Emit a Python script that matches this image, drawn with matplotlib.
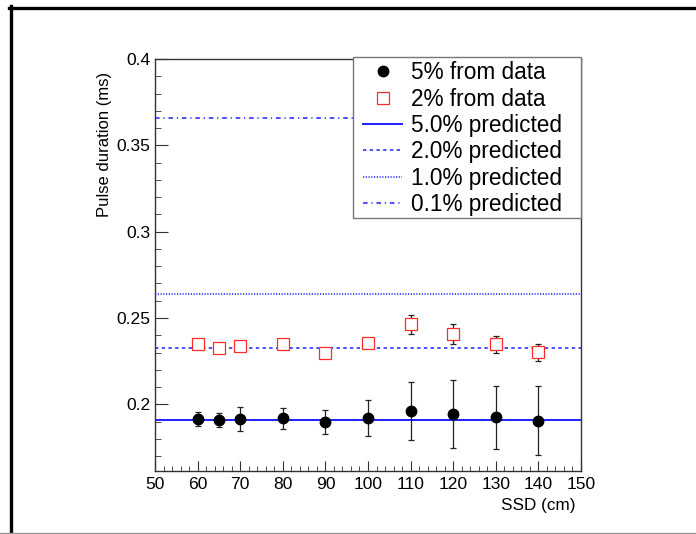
import matplotlib
matplotlib.use("Agg")
import matplotlib.pyplot as plt
from matplotlib.lines import Line2D
from matplotlib.patches import Rectangle
from matplotlib.ticker import MultipleLocator
import numpy as np

plt.rcParams['font.family'] = ['Liberation Sans', 'DejaVu Sans']

# measured points (SSD in cm, pulse duration in ms)
ssd = [60, 65, 70, 80, 90, 100, 110, 120, 130, 140]
dur_5pct = [0.1915, 0.1909, 0.1915, 0.1919, 0.1896, 0.1923, 0.1961, 0.1944, 0.1925, 0.1905]
err_5pct = [0.0040, 0.0039, 0.0070, 0.0062, 0.0070, 0.0105, 0.0169, 0.0196, 0.0184, 0.0200]
dur_2pct = [0.2348, 0.2328, 0.2336, 0.2348, 0.2296, 0.2353, 0.2463, 0.2406, 0.2348, 0.2301]
err_2pct = [0.0015, 0.0015, 0.0015, 0.0015, 0.0015, 0.0015, 0.0054, 0.0058, 0.0049, 0.0049]

# predicted constant durations
pred_labels = ["5.0% predicted", "2.0% predicted", "1.0% predicted", "0.1% predicted"]
pred_values = [0.1909, 0.2325, 0.2639, 0.3661]
pred_styles = ['-', (0, (2.2, 2.2)), (0, (0.8, 1.0)), (0, (3, 2.5, 0.8, 2.5))]

x_range = [50, 150]
y_range = [0.1614, 0.4003]

fig = plt.figure(figsize=(6.96, 5.34), dpi=100)
ax = fig.add_axes([155/696, 1-471/534, 426/696, 412.5/534])

blue = '#1f1fff'
red = '#ff2a2a'
handles = []
for val, lab, ls in zip(pred_values, pred_labels, pred_styles):
    h, = ax.plot(x_range, [val, val], color=blue, linestyle=ls, linewidth=1.4 if ls == '-' else 1.1, label=lab, zorder=2)
    handles.append(h)

ax.errorbar(ssd, dur_5pct, yerr=err_5pct, fmt='o', color='black', markersize=7.5, ecolor='#222222',
            elinewidth=0.9, capsize=2.2, capthick=0.9, zorder=4)
ax.errorbar(ssd, dur_2pct, yerr=err_2pct, fmt='s', color=red, mfc='white', mec=red, mew=0.9,
            markersize=8, ecolor='#222222', elinewidth=0.9, capsize=2.2, capthick=0.9, zorder=4)

ax.set_xlim(x_range)
ax.set_ylim(y_range)
ax.xaxis.set_major_locator(MultipleLocator(10))
ax.xaxis.set_minor_locator(MultipleLocator(2))
ax.yaxis.set_major_locator(MultipleLocator(0.05))
ax.yaxis.set_minor_locator(MultipleLocator(0.01))
ax.yaxis.set_major_formatter(plt.FuncFormatter(lambda v, p: ('%g' % round(v, 3))))
ax.tick_params(axis='both', which='both', direction='in', top=False, right=False, labelsize=12.6, color='#333333')
ax.tick_params(axis='y', which='major', length=9.5, pad=3.5)
ax.tick_params(axis='y', which='minor', length=4.5)
ax.tick_params(axis='x', which='major', length=7, pad=4.5)
ax.tick_params(axis='x', which='minor', length=3.3)
for sp in ax.spines.values():
    sp.set_color('#333333')
    sp.set_linewidth(1.0)

ax.set_xlabel("SSD (cm)", fontsize=12.3, loc='right')
ax.xaxis.set_label_coords(0.986, -0.066)
ax.set_ylabel("Pulse duration (ms)", fontsize=12, loc='top')
ax.yaxis.set_label_coords(-0.101, 0.968)

# legend: proxies without error bars, frame drawn as its own box
h5 = Line2D([], [], marker='o', linestyle='none', color='black', markersize=7.5)
h2 = Line2D([], [], marker='s', linestyle='none', color=red, mfc='white', mec=red, mew=0.9, markersize=8)
fig.add_artist(Rectangle((353/696, 1-218/534), 228/696, 161/534, transform=fig.transFigure,
                         facecolor='white', edgecolor='#777777', linewidth=1.0, zorder=5))
leg = fig.legend([h5, h2] + handles, ["5% from data", "2% from data"] + pred_labels,
                 loc='upper left', bbox_to_anchor=(356/696, 1-54.5/534), fontsize=16.3,
                 frameon=False, handlelength=1.75, handletextpad=0.36, labelspacing=0.148,
                 borderpad=0.3, borderaxespad=0, numpoints=1)
leg.set_zorder(10)

# canvas border like the ROOT canvas
fig.add_artist(Line2D([10.5/696, 10.5/696], [0, 1-6/534], color='black', linewidth=2.4))
fig.add_artist(Line2D([9/696, 1], [1-7.5/534, 1-7.5/534], color='black', linewidth=2.4))
fig.add_artist(Line2D([0, 1], [1-532.5/534, 1-532.5/534], color='#999999', linewidth=1.0))

fig.savefig("out.png", dpi=100)
